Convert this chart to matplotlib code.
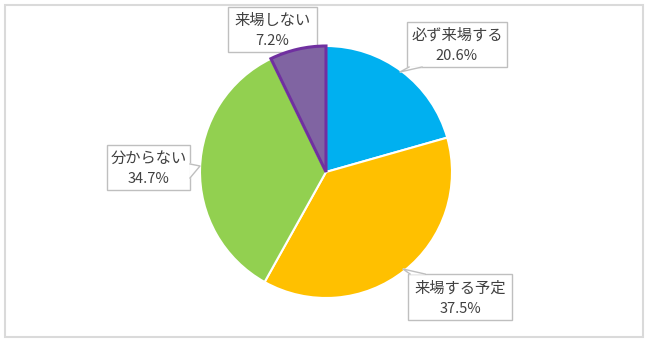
import matplotlib.pyplot as plt
from matplotlib.patches import Rectangle

plt.rcParams['font.family'] = ['Noto Sans CJK JP', 'DejaVu Sans']

labels = ['必ず来場する', '来場する予定', '分からない', '来場しない']
shares = [20.6, 37.5, 34.7, 7.2]
colors = ['#00B0F0', '#FFC000', '#92D050', '#8064A2']

W, H = 650, 343
fig = plt.figure(figsize=(W / 100, H / 100), dpi=100)

# one axes in pixel units (y measured from the top via H - y)
ax = fig.add_axes([0, 0, 1, 1])

# pie, centre (326, 172) px, radius 126 px
cx, cy, r = 326, 172, 126
wedges, _ = ax.pie(shares, colors=colors, startangle=90, counterclock=False,
                   center=(cx, H - cy), radius=r, frame=True,
                   wedgeprops=dict(edgecolor='white', linewidth=1.5,
                                   zorder=3))
wedges[3].set_edgecolor('#7030A0')
wedges[3].set_linewidth(2.2)

ax.set_xlim(0, W)
ax.set_ylim(0, H)
ax.set_aspect('auto')
ax.axis('off')
ax.add_patch(Rectangle((5, H - 337), 638, 332, fill=False, ec='#DADADA',
                       lw=1.5))

# callout boxes: (x0, y0, x1, y1) from the top, pointer polyline, z-order
boxes = [
    ((407, 22, 507, 67), [(409, 67), (400, 72), (422, 67)], 5),
    ((408, 274, 512, 320), [(410, 274), (403, 269), (425, 274)], 5),
    ((107, 145, 190, 190), [(190, 164), (200, 166), (190, 178)], 5),
    ((228, 7, 317, 52), None, 2),
]

for (box, ptr, z), lab, val in zip(boxes, labels, shares):
    x0, y0, x1, y1 = box
    ax.add_patch(Rectangle((x0, H - y1), x1 - x0, y1 - y0, fc='white',
                           ec='#BFBFBF', lw=1.0, zorder=z))
    if ptr is not None:
        xs = [p[0] for p in ptr]
        ys = [H - p[1] for p in ptr]
        ax.fill(xs, ys, color='white', zorder=z + 1)
        ax.plot(xs, ys, color='#BFBFBF', lw=1.0, zorder=z + 1)
    xm = (x0 + x1) / 2
    ax.text(xm, H - (y0 + (y1 - y0) * 0.30), lab, ha='center', va='center',
            fontsize=11, color='#404040', zorder=6)
    ax.text(xm, H - (y0 + (y1 - y0) * 0.76), f'{val:.1f}%', ha='center',
            va='center', fontsize=10.5, color='#404040', zorder=6)

fig.savefig('out.png', dpi=100)
